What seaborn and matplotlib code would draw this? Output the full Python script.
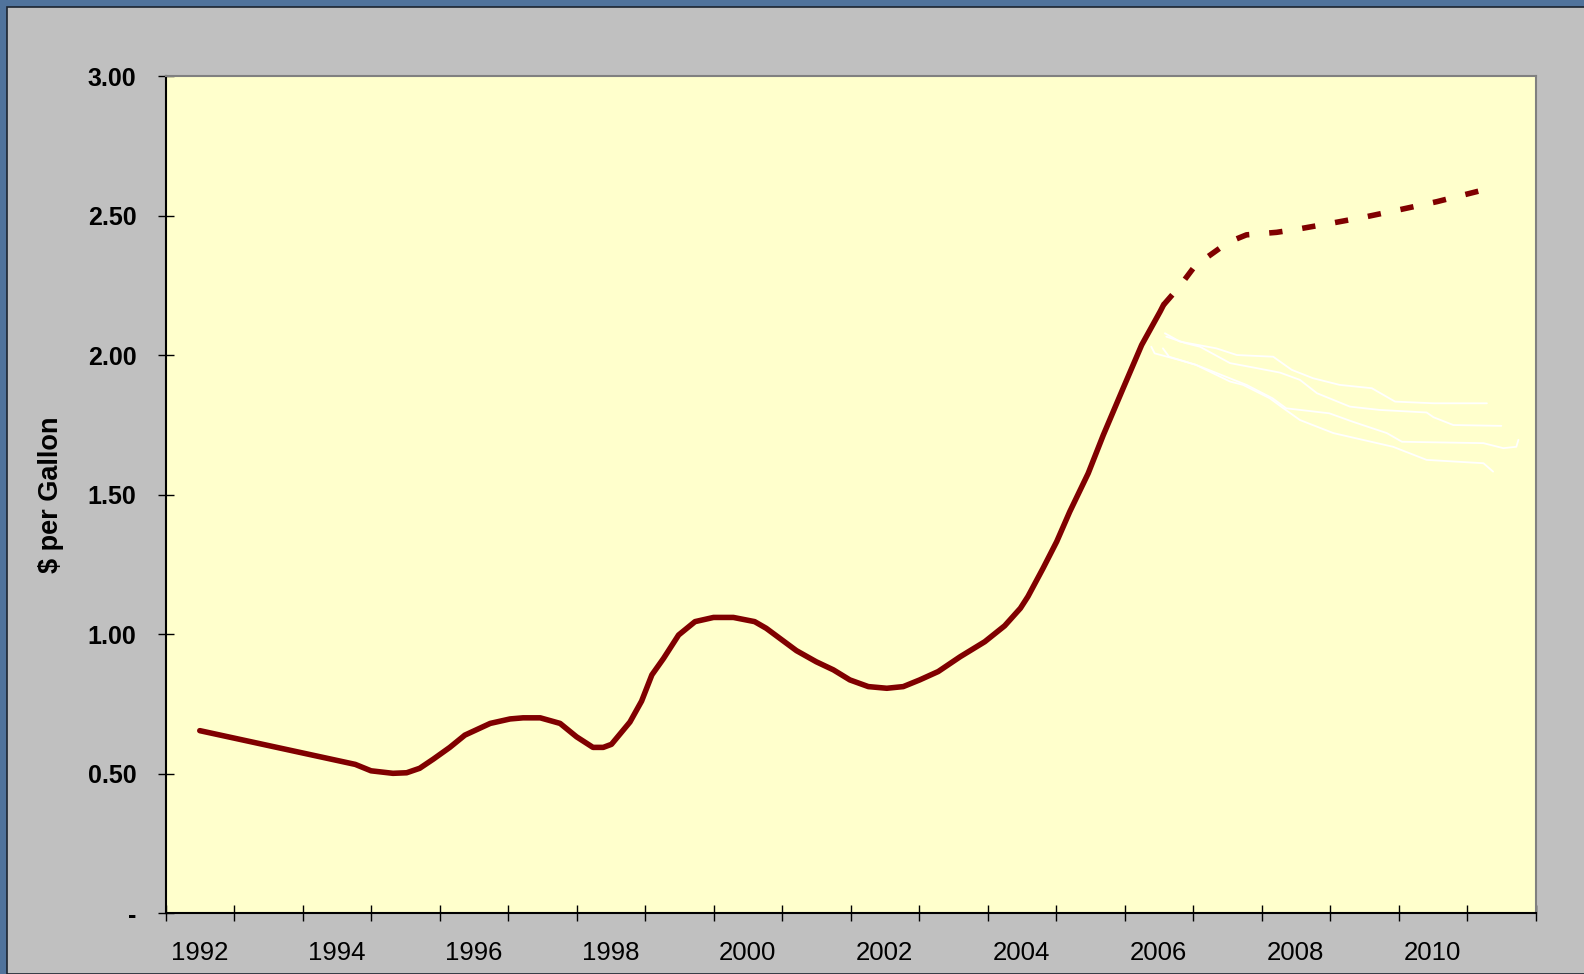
import pandas as pd
import seaborn as sns
import matplotlib.pyplot as plt
from matplotlib.patches import Rectangle
from matplotlib.ticker import FixedLocator, FuncFormatter, NullFormatter

# Historical price ($ per gallon)
hist_year = [1992.0, 1994.27, 1994.5, 1994.82, 1995.02, 1995.21, 1995.41, 1995.65,
             1995.87, 1996.24, 1996.53, 1996.72, 1996.97, 1997.26, 1997.5, 1997.74,
             1997.89, 1998.01, 1998.28, 1998.45, 1998.6, 1998.77, 1998.99, 1999.23,
             1999.5, 1999.79, 2000.1, 2000.27, 2000.71, 2001.0, 2001.25, 2001.49,
             2001.76, 2002.03, 2002.27, 2002.51, 2002.78, 2003.1, 2003.46, 2003.75,
             2003.98, 2004.09, 2004.31, 2004.51, 2004.7, 2004.97, 2005.19, 2005.48,
             2005.75, 2006.02, 2006.07]
hist_price = [0.654, 0.533, 0.510, 0.501, 0.503, 0.519, 0.552, 0.594,
              0.638, 0.680, 0.696, 0.700, 0.700, 0.680, 0.632, 0.594,
              0.594, 0.605, 0.685, 0.760, 0.854, 0.913, 0.997, 1.045,
              1.060, 1.060, 1.045, 1.021, 0.941, 0.901, 0.872, 0.836,
              0.812, 0.806, 0.812, 0.836, 0.866, 0.919, 0.973, 1.030,
              1.093, 1.135, 1.236, 1.332, 1.439, 1.577, 1.714, 1.882,
              2.037, 2.157, 2.181]

# Forecast (dashed)
fc_year = [2006.07, 2006.30, 2006.53, 2006.89, 2007.04, 2007.28, 2007.72, 2008.04,
           2008.57, 2009.03, 2009.57, 2010.06, 2010.69]
fc_price = [2.181, 2.246, 2.321, 2.384, 2.408, 2.432, 2.441, 2.453,
            2.476, 2.497, 2.525, 2.551, 2.590]

# Futures strips (thin white lines)
fut_a_year = [2006.09, 2006.31, 2006.84, 2007.14, 2007.67, 2007.94, 2008.25, 2008.64,
              2009.11, 2009.45, 2010.01, 2010.79]
fut_a_price = [2.079, 2.049, 2.025, 2.001, 1.995, 1.948, 1.918, 1.894,
               1.882, 1.834, 1.828, 1.828]
fut_b_year = [2006.11, 2006.40, 2006.60, 2007.04, 2007.43, 2007.77, 2008.06, 2008.31,
              2008.79, 2009.23, 2009.91, 2010.01, 2010.30, 2011.0]
fut_b_price = [2.067, 2.043, 2.031, 1.972, 1.954, 1.938, 1.912, 1.864,
               1.816, 1.804, 1.795, 1.778, 1.750, 1.747]
fut_c_year = [2006.06, 2006.15, 2006.54, 2007.28, 2007.66, 2007.86, 2008.49, 2008.83,
              2009.33, 2009.55, 2010.74, 2011.03, 2011.22, 2011.25]
fut_c_price = [2.025, 1.995, 1.966, 1.894, 1.846, 1.810, 1.792, 1.762,
               1.721, 1.690, 1.685, 1.667, 1.672, 1.697]
fut_d_year = [2005.89, 2005.94, 2006.29, 2006.54, 2007.04, 2007.23, 2007.62, 2007.82,
              2008.06, 2008.55, 2009.42, 2009.91, 2010.74, 2010.88]
fut_d_price = [2.031, 2.007, 1.984, 1.966, 1.906, 1.894, 1.846, 1.810,
               1.768, 1.721, 1.672, 1.625, 1.613, 1.583]

year_labels = [1992, 1994, 1996, 1998, 2000, 2002, 2004, 2006, 2008, 2010]
y_ticks = [0, 0.5, 1.0, 1.5, 2.0, 2.5, 3.0]

sns.set_style("white")
plt.rcParams['font.family'] = ['Liberation Sans', 'DejaVu Sans']
plt.rcParams['text.color'] = 'black'
plt.rcParams['axes.labelcolor'] = 'black'
plt.rcParams['xtick.color'] = 'black'
plt.rcParams['ytick.color'] = 'black'

fig = plt.figure(figsize=(15.84, 9.74), dpi=100, facecolor='#50739c')
# grey chart area inside the blue frame
fig.patches.append(Rectangle((7 / 1584, 0), 1, 1 - 7 / 974, transform=fig.transFigure,
                             facecolor='#C0C0C0', edgecolor='#1c2430', linewidth=1.2,
                             zorder=-10))
ax = fig.add_axes([0.1045, 0.0626, 0.8649, 0.8589])
ax.set_facecolor('#FFFFCC')

red = '#800000'
hist = pd.DataFrame({'year': hist_year, 'price': hist_price})
fc = pd.DataFrame({'year': fc_year, 'price': fc_price})

futures = [(fut_a_year, fut_a_price), (fut_b_year, fut_b_price),
           (fut_c_year, fut_c_price), (fut_d_year, fut_d_price)]
for fx, fy in futures:
    sns.lineplot(x=fx, y=fy, ax=ax, color='white', linewidth=1.3,
                 estimator=None, sort=False)

sns.lineplot(data=hist, x='year', y='price', ax=ax, color=red, linewidth=4.0,
             estimator=None, sort=False)
ln = sns.lineplot(data=fc, x='year', y='price', ax=ax, color=red, linewidth=4.0,
                  estimator=None, sort=False).lines[-1]
ln.set_linestyle((0, (2.4, 3.6)))
ln.set_dash_capstyle('butt')

ax.set_xlim(1991.5, 2011.5)
ax.set_ylim(0, 3.0)

# category style x axis: tick marks at year boundaries, labels centred
ax.xaxis.set_major_locator(FixedLocator([1991.5 + i for i in range(21)]))
ax.xaxis.set_major_formatter(NullFormatter())
ax.xaxis.set_minor_locator(FixedLocator(year_labels))
ax.xaxis.set_minor_formatter(FuncFormatter(lambda v, p: f"{int(round(v))}"))
ax.tick_params(axis='x', which='major', direction='inout', length=12, width=1,
               color='black', bottom=True)
ax.tick_params(axis='x', which='minor', length=0, pad=20, labelsize=18.5,
               labelcolor='black', bottom=True)

ax.set_yticks(y_ticks)
ax.yaxis.set_major_formatter(FuncFormatter(lambda v, p: "-" if v == 0 else f"{v:.2f}"))
ax.tick_params(axis='y', direction='inout', length=12, width=1, color='black',
               labelcolor='black', left=True, pad=15, labelsize=18)
for t in ax.get_yticklabels():
    t.set_fontweight('bold')

ax.set_xlabel("")
ax.set_ylabel("$ per Gallon", fontsize=19.5, fontweight='bold', va='center',
              color='black')
ax.yaxis.set_label_coords(-0.0835, 0.5)

for side in ['left', 'bottom']:
    ax.spines[side].set_color('black')
    ax.spines[side].set_linewidth(1.5)
for side in ['top', 'right']:
    ax.spines[side].set_color('#808080')
    ax.spines[side].set_linewidth(1.5)
    ax.spines[side].set_visible(True)

plt.savefig("out.png", dpi=100, facecolor=fig.get_facecolor())
